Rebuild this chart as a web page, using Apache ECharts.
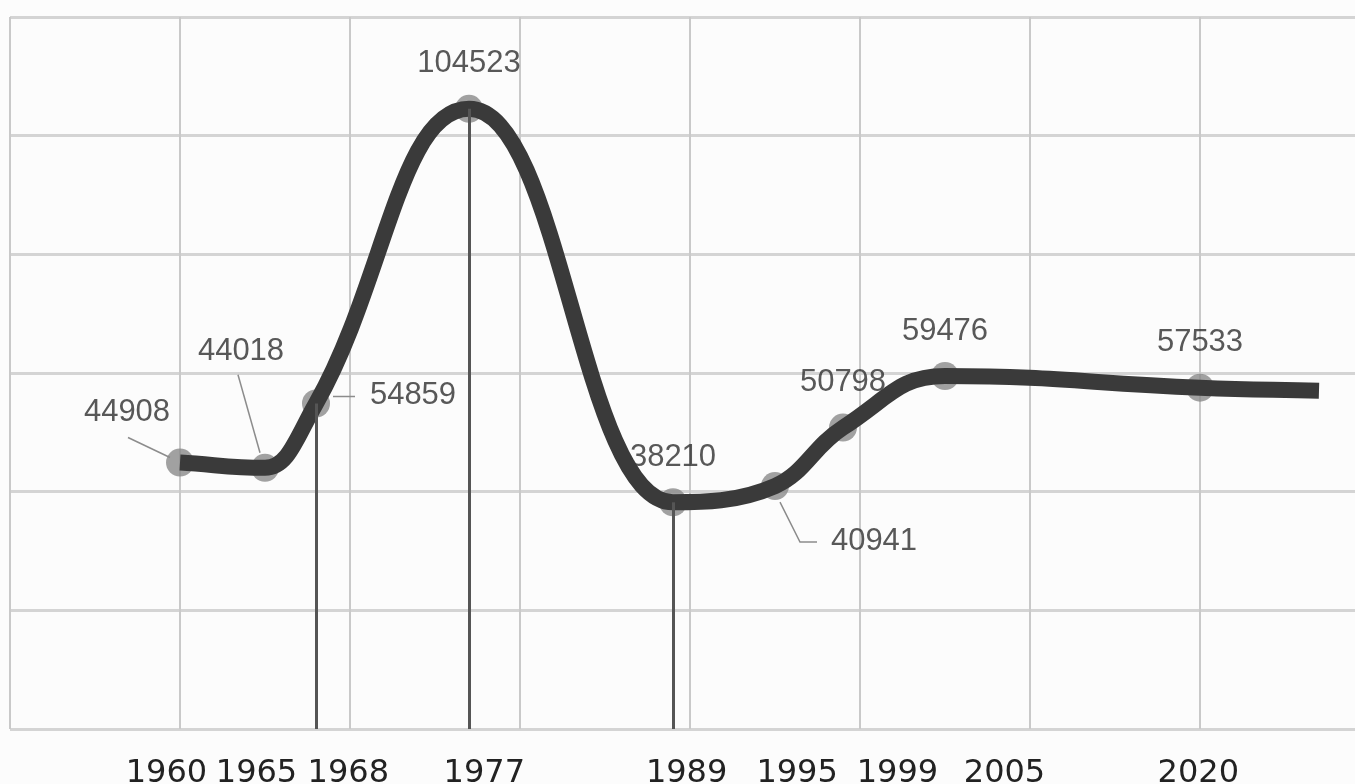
<!DOCTYPE html>
<html>
<head>
<meta charset="utf-8">
<script src="https://cdn.jsdelivr.net/npm/echarts@6/dist/echarts.min.js"></script>
<style>
html, body { margin: 0; padding: 0; background: #fcfcfc; }
#main { width: 1355px; height: 784px; }
</style>
</head>
<body>
<div id="main"></div>
<script>
// values
const years = [1960, 1965, 1968, 1977, 1989, 1995, 1999, 2005, 2020];
const values = [44908, 44018, 54859, 104523, 38210, 40941, 50798, 59476, 57533];
// the curve carries on a bit past the last point
const tailYear = 2027;
const tailValue = 57000;
// points that get a drop line down to the axis
const dropYears = [1968, 1977, 1989];
// labels under the axis
const tickLabels = ['1960', '1965', '1968', '1977', '1989', '1995', '1999', '2005', '2020'];

// layout only: where the axis labels sit (spread so they don't collide)
const tickLabelAt = [1959.2, 1964.5, 1969.9, 1977.9, 1989.8, 1996.3, 2002.2, 2008.5, 2019.9];
// pixel shift of a value label from its point, default is straight above
const labelShift = { 1960: [-53, -50], 1965: [-24, -116], 1968: [97, -8], 1995: [99, 55] };
// leader lines, pixel offsets from the point
const leaders = {
  1960: [[-10, -5], [-52, -25]],
  1965: [[-5, -15], [-27, -93]],
  1968: [[17, -7], [39, -7]],
  1995: [[5, 16], [25, 56], [42, 56]]
};

let myChart = echarts.init(document.getElementById('main'));

let pointData = years.map(function (y, i) { return [y, values[i]]; });
let lineData = pointData.concat([[tailYear, tailValue]]);

let drops = dropYears.map(function (y) {
  return [{ coord: [y, values[years.indexOf(y)]] }, { coord: [y, 0] }];
});

// shrink a handle (keeping its direction) so it stays inside its segment
function fitHandle(h, p, q) {
  let f = 1;
  let xl = Math.abs(q[0] - p[0]) * 0.45;
  let yl = Math.abs(q[1] - p[1]);
  if (Math.abs(h[0]) > xl) f = Math.min(f, xl / Math.abs(h[0]));
  if (Math.abs(h[1]) > yl) f = Math.min(f, yl / Math.abs(h[1]));
  return [p[0] + h[0] * f, p[1] + h[1] * f];
}

// smooth curve: flat at peaks and dips, tangents kept continuous
function smoothPath(pts, s) {
  let n = pts.length;
  let cin = [], cout = [];
  for (let i = 0; i < n; i++) {
    let p = pts[i];
    let a = pts[i - 1] || p;
    let b = pts[i + 1] || p;
    let vx = b[0] - a[0], vy = b[1] - a[1];
    let d0 = Math.hypot(p[0] - a[0], p[1] - a[1]);
    let d1 = Math.hypot(b[0] - p[0], b[1] - p[1]);
    if ((p[1] - a[1]) * (b[1] - p[1]) < 0) vy = 0; // local peak or dip
    let r0 = d0 / (d0 + d1), r1 = d1 / (d0 + d1);
    cin.push(i > 0 ? fitHandle([-vx * s * r0, -vy * s * r0], p, a) : p);
    cout.push(i < n - 1 ? fitHandle([vx * s * r1, vy * s * r1], p, b) : p);
  }
  let path = 'M' + pts[0][0] + ' ' + pts[0][1];
  for (let i = 0; i < n - 1; i++) {
    path += ' C' + cout[i][0] + ' ' + cout[i][1] + ' ' + cin[i + 1][0] + ' ' + cin[i + 1][1] +
      ' ' + pts[i + 1][0] + ' ' + pts[i + 1][1];
  }
  return path;
}

function renderCurve(params, api) {
  if (params.dataIndex !== 0) return null;
  let pts = lineData.map(function (d) { return api.coord(d); });
  let children = [];
  years.forEach(function (y, i) {
    if (!leaders[y]) return;
    let c = api.coord(pointData[i]);
    children.push({
      type: 'polyline',
      shape: { points: leaders[y].map(function (o) { return [c[0] + o[0], c[1] + o[1]]; }) },
      style: { stroke: '#8c8c8c', lineWidth: 1.5, fill: null }
    });
  });
  children.push({
    type: 'path',
    shape: { pathData: smoothPath(pts, 0.5) },
    style: { stroke: '#3a3a3a', lineWidth: 16, fill: null, lineCap: 'butt', lineJoin: 'round' }
  });
  return { type: 'group', children: children };
}

let option = {
  backgroundColor: '#fcfcfc',
  animation: false,
  grid: { left: 10, top: 17, width: 1360, height: 712, outerBoundsMode: 'none', containLabel: false },
  xAxis: [
    {
      type: 'value', min: 1950, max: 2030, interval: 10, position: 'top',
      axisLine: { show: false }, axisTick: { show: false }, axisLabel: { show: false },
      splitLine: { show: true, lineStyle: { color: '#c9c9c9', width: 2 } }
    },
    {
      type: 'value', min: 1950, max: 2030, position: 'bottom',
      axisLine: { show: false }, axisTick: { show: false }, splitLine: { show: false },
      axisLabel: {
        customValues: tickLabelAt,
        margin: 29,
        fontSize: 32,
        fontFamily: 'DejaVu Sans',
        color: '#222222',
        formatter: function (v) {
          let best = 0;
          tickLabelAt.forEach(function (t, i) {
            if (Math.abs(t - v) < Math.abs(tickLabelAt[best] - v)) best = i;
          });
          return tickLabels[best];
        }
      }
    }
  ],
  yAxis: {
    type: 'value', min: 0, max: 120000, interval: 20000,
    axisLine: { show: false }, axisTick: { show: false }, axisLabel: { show: false },
    splitLine: { show: true, lineStyle: { color: '#d4d4d4', width: 3 } }
  },
  series: [
    {
      type: 'scatter',
      xAxisIndex: 0,
      z: 2,
      data: pointData,
      symbol: 'circle',
      symbolSize: 28,
      itemStyle: { color: '#898989' },
      label: {
        show: true,
        formatter: function (p) { return String(p.value[1]); },
        fontSize: 31,
        fontFamily: 'Liberation Sans',
        color: '#2e2e2e'
      },
      labelLayout: function (p) {
        let s = labelShift[years[p.dataIndex]] || [0, -45];
        return {
          x: p.rect.x + p.rect.width / 2 + s[0],
          y: p.rect.y + p.rect.height / 2 + s[1],
          align: 'center',
          verticalAlign: 'middle'
        };
      },
      markLine: {
        silent: true,
        symbol: ['none', 'none'],
        label: { show: false },
        lineStyle: { color: '#555555', width: 3, type: 'solid' },
        data: drops
      }
    },
    {
      type: 'custom',
      xAxisIndex: 0,
      z: 3,
      silent: true,
      data: lineData,
      renderItem: renderCurve
    }
  ]
};
myChart.setOption(option, true);
</script>
</body>
</html>
